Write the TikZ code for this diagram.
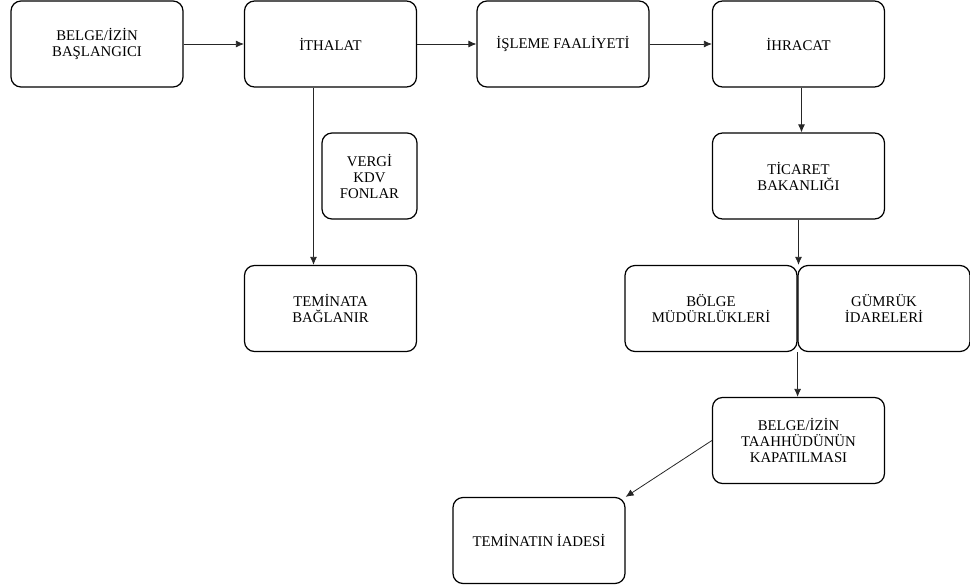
\documentclass[tikz,border=0pt]{standalone}
\usepackage{fontspec}
\setmainfont{Liberation Serif}
\usepackage{tikz}
\usetikzlibrary{shapes}
\usetikzlibrary{calc}
\usetikzlibrary{arrows.meta}
\tikzset{box/.style={rectangle, rounded corners=10pt, draw, line width=1.2pt, minimum width=172pt, minimum height=86pt, align=center, font=\fontsize{14.8}{16}\selectfont, inner sep=2pt}}
\tikzset{link/.style={draw=black!85, line width=0.8pt, -{Latex[length=8pt,width=7pt]}}}

\begin{document}
\begin{tikzpicture}[x=1pt,y=-1pt]
  \useasboundingbox (0,0) rectangle (970,587);
  \foreach \x/\y/\name/\lab in {
    97/44/{BELGE/İZİN\\BAŞLANGICI}/baslangic,
    330.5/44/{İTHALAT}/ithalat,
    563/44/{İŞLEME FAALİYETİ}/isleme,
    798.5/44/{İHRACAT}/ihracat,
    330.5/308.5/{TEMİNATA\\BAĞLANIR}/teminata,
    798.5/176/{TİCARET\\BAKANLIĞI}/ticaret,
    711/308.5/{BÖLGE\\MÜDÜRLÜKLERİ}/bolge,
    884/308.5/{GÜMRÜK\\İDARELERİ}/gumruk,
    798.5/440.5/{BELGE/İZİN\\TAAHHÜDÜNÜN\\KAPATILMASI}/kapatma,
    539/540.5/{TEMİNATIN İADESİ}/iade%
  } {
    \node[box] (\lab) at (\x, \y) {\name};
  }
  \node[box, minimum width=95pt] (vergi) at (369.5, 176) {VERGİ\\KDV\\FONLAR};

  \foreach \u/\v in {
    baslangic/ithalat,
    ithalat/isleme,
    isleme/ihracat%
  }{
    \draw[link] (\u) -- (\v);
  }
  \draw[link] ([xshift=-17pt]ithalat.south) -- ([xshift=-17pt]teminata.north);
  \draw[link] ([xshift=3pt]ihracat.south) -- ([xshift=3pt]ticaret.north);
  \draw[link] (ticaret.south) -- (ticaret.south |- bolge.north);
  \draw[link] (bolge.south east) -- (bolge.south east |- kapatma.north);
  \draw[link] (kapatma.west) -- (iade.north east);
\end{tikzpicture}
\end{document}
